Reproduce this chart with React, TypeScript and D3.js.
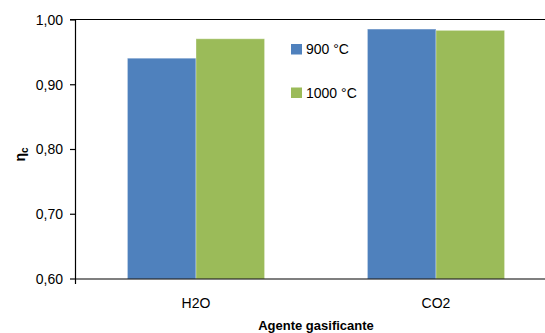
import * as d3 from 'd3'

const categories = ['H2O', 'CO2']
const seriesNames = ['900 °C', '1000 °C']
const seriesColors = ['#4f81bd', '#9bbb59']
const values900 = [0.941, 0.986]
const values1000 = [0.971, 0.984]
const yTicks = [0.6, 0.7, 0.8, 0.9, 1.0]

const W = 545
const H = 333

export default function App() {
  const margin = { top: 20, left: 76, bottom: 54 }
  const plotRight = 556 // plot area runs past the right edge, as in the reference
  const plotBottom = H - margin.bottom - 0

  const x0 = d3.scaleBand<string>().domain(categories).range([margin.left, plotRight]).padding(0)
  // Excel-style gap width of 150%
  const gap = 1.5
  const barW = x0.bandwidth() / (seriesNames.length + gap)
  const x1 = d3
    .scaleBand<string>()
    .domain(seriesNames)
    .range([0, barW * seriesNames.length])
    .padding(0)
  const groupOffset = (x0.bandwidth() - barW * seriesNames.length) / 2

  const y = d3.scaleLinear().domain([0.6, 1.0]).range([279, margin.top])
  const fmt = (v: number) => v.toFixed(2).replace('.', ',')
  const font = "'Liberation Sans', Arial, sans-serif"

  const rows = categories.map((c, i) => ({ cat: c, vals: [values900[i], values1000[i]] }))

  return (
    <div style={{ position: 'absolute', left: 0, top: 0 }}>
      <svg width={W} height={H} style={{ display: 'block', background: '#fff' }} fontFamily={font}>
        {/* bars */}
        {rows.map((r) => (
          <g key={r.cat} transform={`translate(${(x0(r.cat) ?? 0) + groupOffset},0)`}>
            {r.vals.map((v, j) => (
              <rect
                key={seriesNames[j]}
                x={x1(seriesNames[j])}
                y={y(v)}
                width={x1.bandwidth()}
                height={y(0.6) - y(v)}
                fill={seriesColors[j]}
                stroke="#ffffff"
                strokeOpacity={0.35}
                strokeWidth={1}
              />
            ))}
          </g>
        ))}

        {/* top line at 1,00 */}
        <line x1={margin.left - 6} x2={W} y1={y(1.0) - 0.5} y2={y(1.0) - 0.5} stroke="#000" strokeWidth={1.2} />

        {/* y axis */}
        <line x1={75.5} x2={75.5} y1={y(1.0) - 0.5} y2={y(0.6) + 5} stroke="#000" strokeWidth={1.2} />
        {yTicks.map((t) => (
          <g key={t}>
            <line x1={70} x2={75.5} y1={y(t)} y2={y(t)} stroke="#000" strokeWidth={1.2} />
            <text x={63} y={y(t)} dy="0.35em" textAnchor="end" fontSize={14} fill="#000">
              {fmt(t)}
            </text>
          </g>
        ))}

        {/* x axis */}
        <line x1={75} x2={W} y1={y(0.6)} y2={y(0.6)} stroke="#000" strokeWidth={1.2} />
        {categories.map((c) => (
          <text
            key={c}
            x={(x0(c) ?? 0) + x0.bandwidth() / 2}
            y={plotBottom + 29}
            textAnchor="middle"
            fontSize={14}
            fill="#000"
          >
            {c}
          </text>
        ))}

        {/* axis titles */}
        <text
          x={(margin.left + plotRight) / 2}
          y={330}
          textAnchor="middle"
          fontSize={13}
          fontWeight="bold"
          fill="#000"
        >
          Agente gasificante
        </text>
        <text
          transform={`translate(25,${(y(0.6) + y(1.0)) / 2 + 5}) rotate(-90)`}
          textAnchor="middle"
          fontSize={14}
          fontWeight="bold"
          fill="#000"
        >
          η<tspan fontSize={10} dy={3}>c</tspan>
        </text>

        {/* legend */}
        {seriesNames.map((s, i) => (
          <g key={s} transform={`translate(291,${44 + i * 43.5})`}>
            <rect x={0} y={0} width={11} height={10.5} fill={seriesColors[i]} />
            <text x={15} y={5.5} dy="0.35em" fontSize={14} fill="#000">
              {s}
            </text>
          </g>
        ))}
      </svg>
    </div>
  )
}
